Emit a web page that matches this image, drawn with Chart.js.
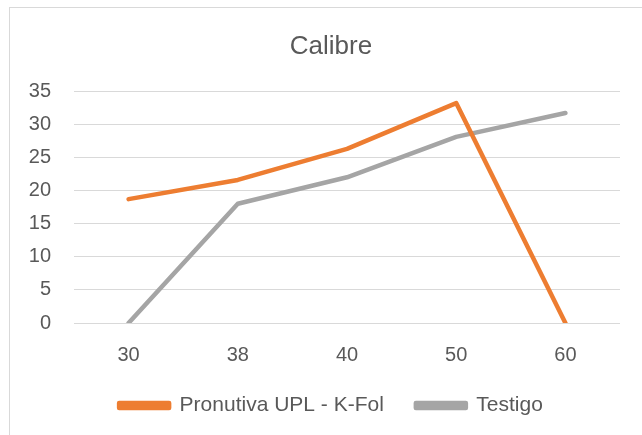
<!DOCTYPE html>
<html>
<head>
<meta charset="utf-8">
<script src="https://cdn.jsdelivr.net/npm/chart.js@4"></script>
<style>
  body { margin: 0; background: #fff; overflow: hidden; }
  #box { position: absolute; left: 9px; top: 7px; width: 700px; height: 500px; border: 1px solid #d9d9d9; }
  #wrap { position: absolute; left: 0; top: 0; width: 642px; height: 435px; }
</style>
</head>
<body>
<div id="box"></div>
<div id="wrap"><canvas id="c1"></canvas></div>
<script>
var labels = ['30', '38', '40', '50', '60'];
var pronutiva = [18.7, 21.6, 26.3, 33.2, 0];
var testigo = [0, 18.0, 22.0, 28.1, 31.7];

Chart.defaults.font.family = "'Liberation Sans', Arial, sans-serif";
Chart.defaults.color = '#595959';

// title and legend sit a bit right of the canvas middle in the original
var shiftBoxes = {
    id: 'shiftBoxes',
    afterLayout: function (chart) {
        [chart.titleBlock, chart.legend].forEach(function (b) {
            b.left += 17;
            b.right += 17;
        });
    }
};

var ctx = document.getElementById('c1');
var myChart = new Chart(ctx, {
    type: 'line',
    data: {
        labels: labels,
        datasets: [{
            label: 'Pronutiva UPL - K-Fol',
            data: pronutiva,
            borderColor: '#ED7D31',
            backgroundColor: '#ED7D31',
            borderWidth: 4.5,
            borderCapStyle: 'round',
            borderJoinStyle: 'round',
            pointRadius: 0,
            tension: 0
        }, {
            label: 'Testigo',
            data: testigo,
            borderColor: '#A5A5A5',
            backgroundColor: '#A5A5A5',
            borderWidth: 4.5,
            borderCapStyle: 'round',
            borderJoinStyle: 'round',
            pointRadius: 0,
            tension: 0
        }]
    },
    options: {
        responsive: true,
        maintainAspectRatio: false,
        animation: false,
        layout: {
            padding: { left: 8, right: 22, top: 31, bottom: 9 }
        },
        scales: {
            x: {
                offset: true,
                grid: { display: false, drawTicks: false },
                border: { display: false },
                ticks: { font: { size: 20, lineHeight: 1 }, padding: 22, color: '#595959' },
                afterFit: function (scale) { scale.height = 40; }
            },
            y: {
                min: 0,
                max: 35,
                grid: { color: '#d9d9d9', lineWidth: 1, drawTicks: false },
                border: { display: false },
                ticks: { stepSize: 5, font: { size: 20 }, padding: 23, color: '#595959' },
                afterFit: function (scale) { scale.width = 66; }
            }
        },
        plugins: {
            title: {
                display: true,
                text: 'Calibre',
                font: { size: 26, weight: 'normal' },
                color: '#595959',
                padding: { top: 0, bottom: 29 }
            },
            legend: {
                position: 'bottom',
                labels: {
                    boxWidth: 50,
                    boxHeight: 5,
                    font: { size: 21 },
                    color: '#595959',
                    padding: 32
                }
            },
            tooltip: { enabled: false }
        }
    },
    plugins: [shiftBoxes]
});
</script>
</body>
</html>
